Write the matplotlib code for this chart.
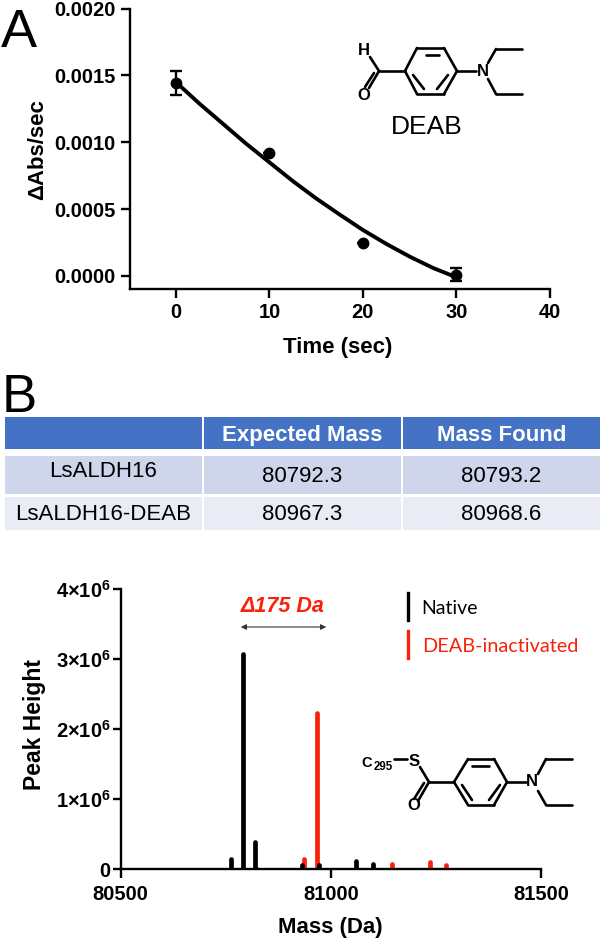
import matplotlib
matplotlib.use('Agg')
import matplotlib.pyplot as plt
from matplotlib.patches import Rectangle

plt.rcParams['font.family'] = ['Liberation Sans', 'DejaVu Sans']
plt.rcParams['mathtext.fontset'] = 'custom'
plt.rcParams['mathtext.bf'] = 'Liberation Sans:bold'
plt.rcParams['mathtext.rm'] = 'Liberation Sans'

W, H = 600, 941

# panel A data
time_pts = [0, 10, 20, 30]
rate_pts = [0.00144, 0.00092, 0.000247, 0.00001]
rate_err = [0.00009, 0, 0, 0.00005]
fit_time = [0, 2.5, 5, 7.5, 10, 12.5, 15, 17.5, 20, 22.5, 25, 27.5, 30]
fit_rate = [0.00145, 0.00129, 0.00114, 0.00099, 0.00085, 0.00071, 0.00058,
            0.00046, 0.000344, 0.00024, 0.000145, 0.00006, -0.00001]
a_xticks = [0, 10, 20, 30, 40]
a_yticks = [0.0, 0.0005, 0.001, 0.0015, 0.002]

# table data
col_headers = ['', 'Expected Mass', 'Mass Found']
row_names = ['LsALDH16', 'LsALDH16-DEAB']
expected_mass = ['80792.3', '80967.3']
mass_found = ['80793.2', '80968.6']

# panel B data
native_mass = [80762, 80791, 80820, 80931, 80973, 81060, 81101, 81424]
native_peak = [0.147e6, 3.07e6, 0.385e6, 0.06e6, 0.06e6, 0.12e6, 0.075e6, 0.005e6]
deab_mass = [80795, 80823, 80937, 80968, 81146, 81235, 81275]
deab_peak = [0.01e6, 0.015e6, 0.14e6, 2.23e6, 0.075e6, 0.1e6, 0.065e6]
b_xticks = [80500, 81000, 81500]
b_yticks = [0, 1e6, 2e6, 3e6, 4e6]
b_ylabels = ['0', r'$\mathbf{1{\times}10^{6}}$', r'$\mathbf{2{\times}10^{6}}$',
             r'$\mathbf{3{\times}10^{6}}$', r'$\mathbf{4{\times}10^{6}}$']

RED = '#f8210a'


def axes_px(fig, left, top, right, bottom):
    return fig.add_axes([left / W, 1 - bottom / H, (right - left) / W, (bottom - top) / H])


def style_axes(ax):
    for s in ['top', 'right']:
        ax.spines[s].set_visible(False)
    for s in ['left', 'bottom']:
        ax.spines[s].set_linewidth(1.7)
    ax.tick_params(width=1.7, length=6.5, labelsize=14.5, pad=4)
    for lab in ax.get_xticklabels() + ax.get_yticklabels():
        lab.set_fontweight('bold')


def bonds(ax, segs, lw=1.9):
    for (x0, y0), (x1, y1) in segs:
        ax.plot([x0, x1], [y0, y1], color='black', lw=lw, solid_capstyle='round')


fig = plt.figure(figsize=(6, 9.41), dpi=100)

# 1) panel A
ax_a = axes_px(fig, 130, 8.5, 550, 288.7)
ax_a.errorbar(time_pts, rate_pts, yerr=rate_err, fmt='o', color='black', ms=7.5,
              capsize=4.5, capthick=1.7, elinewidth=1.7, clip_on=False, zorder=3)
ax_a.plot(fit_time, fit_rate, color='black', lw=2.8, zorder=3)
ax_a.set_xlim(-4.9, 40)
ax_a.set_ylim(-0.000095, 0.002)
ax_a.set_xticks(a_xticks)
ax_a.set_yticks(a_yticks)
ax_a.set_yticklabels([f'{v:.4f}' for v in a_yticks])
style_axes(ax_a)
fig.text(338 / W, 1 - 348 / H, 'Time (sec)', fontsize=16, fontweight='bold', ha='center', va='center')
fig.text(38 / W, 1 - 150 / H, '\u0394Abs/sec', fontsize=16, fontweight='bold', rotation=90,
         ha='center', va='center')

# 2) panel B spectrum
ax_b = axes_px(fig, 120.5, 589, 541, 869.3)
ax_b.vlines(deab_mass, 0, deab_peak, color=RED, lw=3.4, capstyle='round', zorder=2)
ax_b.vlines(native_mass, 0, native_peak, color='black', lw=3.4, capstyle='round', zorder=2)
ax_b.set_xlim(80500, 81500)
ax_b.set_ylim(0, 4e6)
ax_b.set_xticks(b_xticks)
ax_b.set_yticks(b_yticks)
ax_b.set_xticklabels([str(v) for v in b_xticks])
ax_b.set_yticklabels(b_ylabels)
style_axes(ax_b)
ax_b.tick_params(axis='y', length=6, pad=1)
ax_b.tick_params(axis='x', pad=5)
fig.text(330 / W, 1 - 928 / H, 'Mass (Da)', fontsize=16, fontweight='bold', ha='center', va='center')
fig.text(35 / W, 1 - 725 / H, 'Peak Height', fontsize=16.5, fontweight='bold', rotation=90,
         ha='center', va='center')

# 3) overlay in pixel coordinates: letters, table, structures, legend
ov = fig.add_axes([0, 0, 1, 1], zorder=5)
ov.set_xlim(0, W)
ov.set_ylim(H, 0)
ov.axis('off')
ov.patch.set_alpha(0)

ov.text(19, 47, 'A', fontsize=39, ha='center', va='baseline')
ov.text(19.5, 412, 'B', fontsize=38, ha='center', va='baseline')

col_x = [(5, 202), (204, 401), (403, 600)]
row_y = [(417, 449), (456, 494), (497, 530)]
row_col = ['#4472c4', '#cfd5ea', '#e9ebf5']
for (y0, y1), c in zip(row_y, row_col):
    for x0, x1 in col_x:
        ov.add_patch(Rectangle((x0, y0), x1 - x0, y1 - y0, facecolor=c, edgecolor='none'))
for (x0, x1), head in zip(col_x, col_headers):
    ov.text((x0 + x1) / 2, 435.7, head, color='white', fontsize=16, fontweight='bold', ha='center', va='center')
ov.text(103, 471.7, row_names[0], fontsize=16, ha='center', va='center')
ov.text(103, 515, row_names[1], fontsize=16, ha='center', va='center')
for (x0, x1), col in zip(col_x[1:], [expected_mass, mass_found]):
    ov.text((x0 + x1) / 2, 476, col[0], fontsize=16, ha='center', va='center')
    ov.text((x0 + x1) / 2, 515, col[1], fontsize=16, ha='center', va='center')

# DEAB structure
bonds(ov, [((405, 71), (417, 48)), ((417, 48), (444, 48)), ((444, 48), (457, 71)),
           ((457, 71), (444, 94)), ((444, 94), (417, 94)), ((417, 94), (405, 71)),
           ((426, 55), (439, 55)), ((413, 75), (424, 89)), ((448, 75), (437, 89)),
           ((379, 71), (405, 71)), ((379, 71), (370, 57)), ((379, 71), (369, 88)),
           ((374, 73), (365, 87)), ((457, 71), (476, 71)),
           ((488, 63), (496, 49)), ((496, 49), (522, 49)),
           ((488, 79), (496, 94)), ((496, 94), (522, 94))])
ov.text(364, 50, 'H', fontsize=12, fontweight='bold', ha='center', va='center')
ov.text(363.5, 95, 'O', fontsize=12, fontweight='bold', ha='center', va='center')
ov.text(483, 71, 'N', fontsize=12, fontweight='bold', ha='center', va='center')
ov.text(427, 127, 'DEAB', fontsize=19, ha='center', va='center')

# thioester structure
bonds(ov, [((454, 782), (468, 759)), ((468, 759), (494, 759)), ((494, 759), (507, 782)),
           ((507, 782), (494, 805)), ((494, 805), (468, 805)), ((468, 805), (454, 782)),
           ((472, 766), (489, 766)), ((462, 785), (472, 800)), ((500, 785), (489, 800)),
           ((429, 782), (454, 782)), ((429, 782), (420, 767)), ((429, 782), (418, 801)),
           ((424, 783), (414, 799)), ((507, 782), (526, 782)),
           ((538, 774), (546, 759)), ((546, 759), (572, 759)),
           ((538, 791), (546, 805)), ((546, 805), (572, 805)),
           ((394, 759), (407, 759))])
ov.text(414, 761, 'S', fontsize=12, fontweight='bold', ha='center', va='center')
ov.text(414, 806, 'O', fontsize=12, fontweight='bold', ha='center', va='center')
ov.text(532, 782, 'N', fontsize=12, fontweight='bold', ha='center', va='center')
ov.text(361.5, 767, 'C', fontsize=10.5, fontweight='bold', ha='left', va='baseline')
ov.text(373.5, 769.5, '295', fontsize=8.3, fontweight='bold', ha='left', va='baseline')

# delta annotation
ov.text(283, 607, '\u0394175 Da', color=RED, fontsize=15.5, fontweight='bold', style='italic', ha='center', va='center')
ov.annotate('', xy=(238, 627), xytext=(329, 627),
            arrowprops=dict(arrowstyle='<|-|>', color='#333333', lw=0.8, mutation_scale=8))

# legend
ov.plot([407.5, 407.5], [593, 620], color='black', lw=2.4)
ov.plot([407.5, 407.5], [631, 658], color=RED, lw=2.4)
ov.text(421, 608, 'Native', fontsize=14, family='Lato', ha='left', va='center')
ov.text(422, 646, 'DEAB-inactivated', fontsize=14.3, family='Lato', color=RED, ha='left', va='center')

fig.savefig('out.png', dpi=100)
